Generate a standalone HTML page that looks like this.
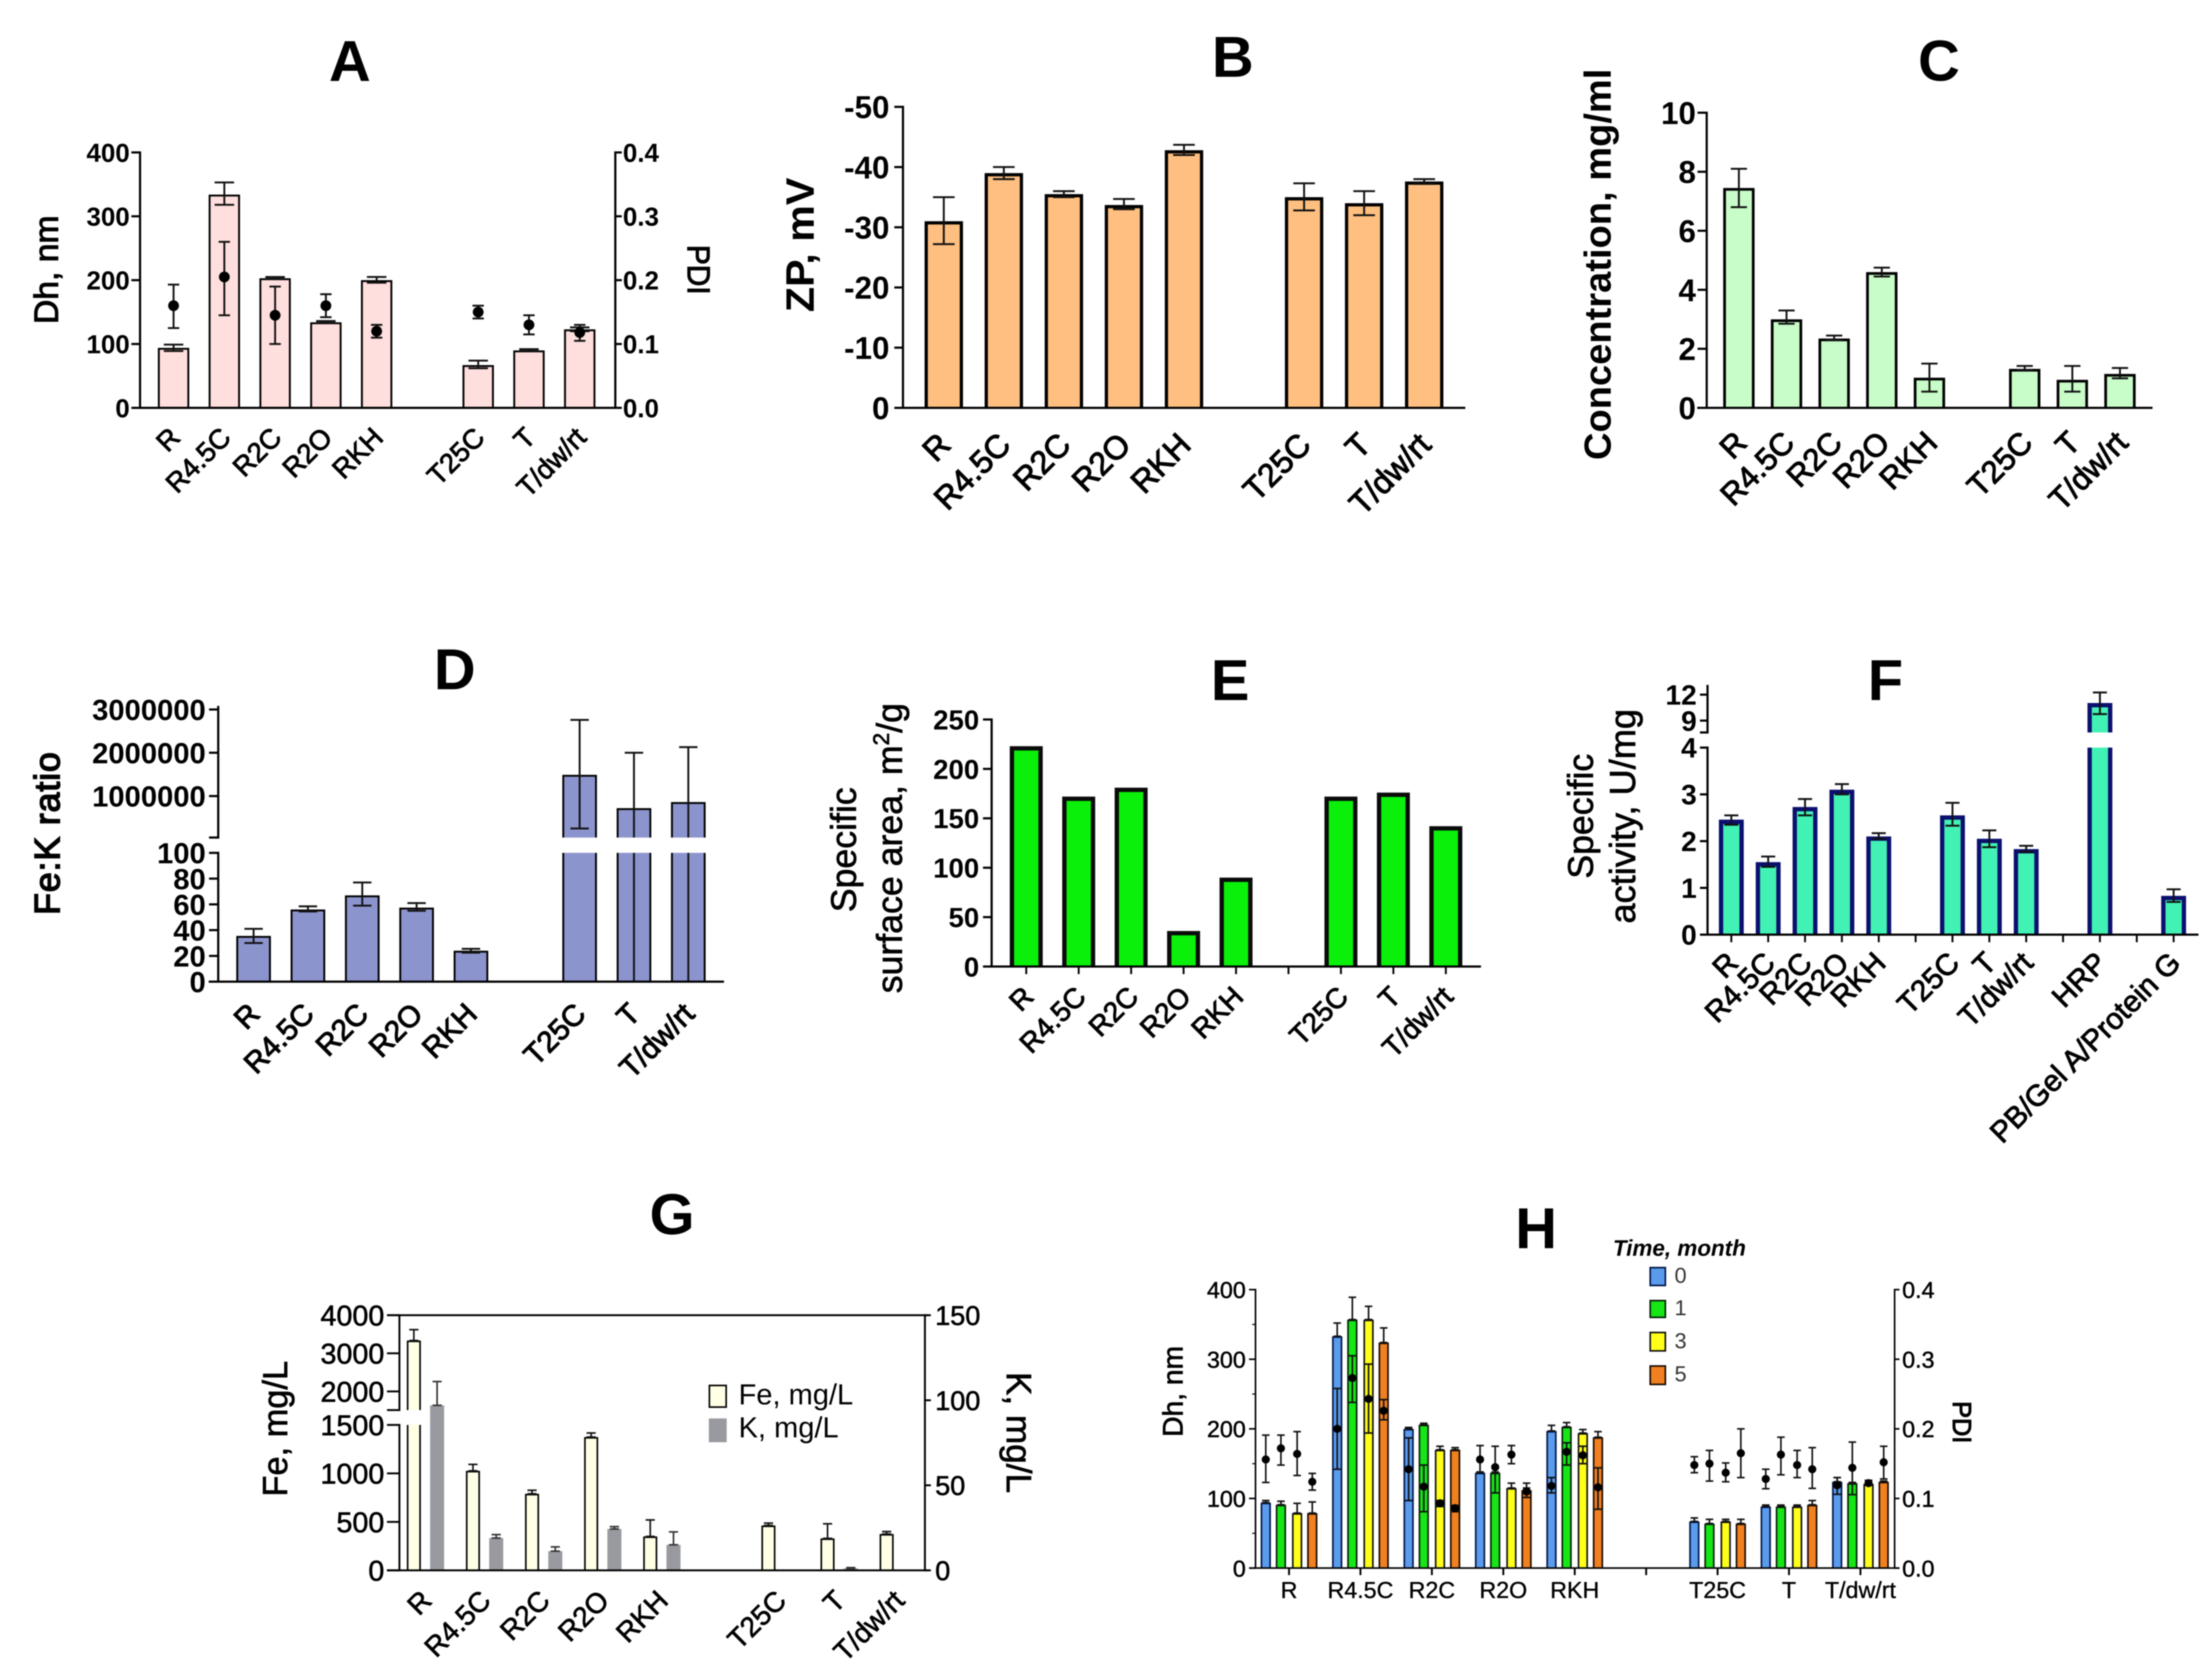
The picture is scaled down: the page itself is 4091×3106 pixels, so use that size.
<!DOCTYPE html>
<html lang="en">
<head>
<meta charset="utf-8">
<title>Nanoparticle characterisation panels A–H</title>
<style>
  html, body { margin: 0; padding: 0; background: #fff; }
  svg { display: block; filter: blur(1px); font-family: "Liberation Sans", Arial, sans-serif; }
  text { fill: #000; }
  .b { font-weight: bold; }
  .letter { font-weight: bold; font-size: 107px; text-anchor: middle; }
  .m { text-anchor: middle; }
  .h1 { stroke: #000; stroke-width: 1.2px; }
  .h2 { stroke: #000; stroke-width: 1.8px; }
</style>
</head>
<body>
<svg id="figure" xmlns="http://www.w3.org/2000/svg" width="4091" height="3106" viewBox="0 0 4091 3106">
  <rect width="4091" height="3106" fill="#fff"/>

  <g id="panel-a">
    <text class="letter" x="647" y="150">A</text>
    <text class="m h2" font-size="62" textLength="201" lengthAdjust="spacingAndGlyphs" transform="translate(107,499) rotate(-90)">Dh, nm</text>
    <text class="m h2" font-size="58" textLength="92" lengthAdjust="spacingAndGlyphs" transform="translate(1272,499) rotate(90)">PDI</text>
  </g>

  <g id="panel-b">
    <text class="letter" x="2280" y="142">B</text>
    <text class="m b" font-size="73" textLength="249" lengthAdjust="spacingAndGlyphs" transform="translate(1505,453) rotate(-90)">ZP, mV</text>
  </g>

  <g id="panel-c">
    <text class="letter" x="3586" y="149">C</text>
    <text class="m b" font-size="70" textLength="724" lengthAdjust="spacingAndGlyphs" transform="translate(2979,489) rotate(-90)">Concentration, mg/ml</text>
  </g>

  <g id="panel-d">
    <text class="letter" x="841" y="1275">D</text>
    <text class="m h2" font-size="66" textLength="301" lengthAdjust="spacing" style="stroke-width:2.6px" transform="translate(110,1542) rotate(-90)">Fe:K ratio</text>
  </g>

  <g id="panel-e">
    <text class="letter" x="2275" y="1295">E</text>
    <text class="m h1" font-size="66" transform="translate(1583,1572) rotate(-90)">Specific</text>
    <text class="m h1" font-size="66" transform="translate(1668,1569) rotate(-90)">surface area, m<tspan font-size="42" dy="-24">2</tspan><tspan dy="24">/g</tspan></text>
  </g>

  <g id="panel-f">
    <text class="letter" x="3487" y="1295">F</text>
    <text class="m h1" font-size="66" transform="translate(2946,1510) rotate(-90)">Specific</text>
    <text class="m h1" font-size="67" transform="translate(3024,1510) rotate(-90)">activity, U/mg</text>
  </g>

  <g id="panel-g">
    <text class="letter" x="1243" y="2283">G</text>
    <text class="m h1" font-size="63.6" transform="translate(531,2643) rotate(-90)">Fe, mg/L</text>
    <text class="m h1" font-size="65" transform="translate(1862,2650) rotate(90)">K, mg/L</text>
    <g>
      <rect x="1312" y="2563" width="31" height="40" fill="#FFFFE5" stroke="#000" stroke-width="3"/>
      <text x="1366" y="2598" font-size="53.7">Fe, mg/L</text>
      <rect x="1311" y="2624" width="33" height="44" fill="#999AA0"/>
      <text x="1366" y="2659" font-size="53.7">K, mg/L</text>
    </g>
  </g>

  <g id="panel-h">
    <text class="letter" x="2841" y="2309">H</text>
    <text class="m h1" font-size="52" textLength="168" lengthAdjust="spacingAndGlyphs" transform="translate(2187,2574) rotate(-90)">Dh, nm</text>
    <text class="m h2" font-size="48" textLength="78" lengthAdjust="spacingAndGlyphs" transform="translate(3612,2631) rotate(90)">PDI</text>
    <g>
      <text x="2983" y="2323" font-size="41.5" font-weight="bold" font-style="italic">Time, month</text>
      <rect x="3052" y="2345" width="28" height="33" fill="#5B9BEB" stroke="#00164A" stroke-width="3"/>
      <text x="3097" y="2373" font-size="40" style="fill:#333">0</text>
      <rect x="3052" y="2406" width="28" height="31" fill="#16E616" stroke="#06200A" stroke-width="3"/>
      <text x="3097" y="2433" font-size="40" style="fill:#333">1</text>
      <rect x="3052" y="2465" width="28" height="34" fill="#FFFF1A" stroke="#111" stroke-width="3"/>
      <text x="3097" y="2494" font-size="40" style="fill:#333">3</text>
      <rect x="3052" y="2527" width="28" height="34" fill="#F08020" stroke="#1A0A00" stroke-width="3"/>
      <text x="3097" y="2555" font-size="40" style="fill:#333">5</text>
    </g>
  </g>
</svg>

<script>
// ---------- shared categories (empty string marks the blank slot between groups) ----------
const categories = ['R', 'R4.5C', 'R2C', 'R2O', 'RKH', '', 'T25C', 'T', 'T/dw/rt'];
const fCategories = ['R', 'R4.5C', 'R2C', 'R2O', 'RKH', '', 'T25C', 'T', 'T/dw/rt', '', 'HRP', '', 'PB/Gel A/Protein G'];

// ---------- panel A ----------
const aDh = [94, 334, 203, 134, 200, null, 67, 90, 123];
const aDhLow = [89, 318, 202, 133, 196, null, 62, 89, 120];
const aDhHigh = [99, 353, 205, 136, 205, null, 74, 92, 126];
const aPdi = [0.16, 0.205, 0.145, 0.16, 0.12, null, 0.15, 0.13, 0.118];
const aPdiLow = [0.125, 0.145, 0.1, 0.142, 0.11, null, 0.14, 0.115, 0.105];
const aPdiHigh = [0.193, 0.26, 0.19, 0.178, 0.13, null, 0.16, 0.145, 0.13];
const aDhTicks = [0, 100, 200, 300, 400];
const aPdiTicks = [0, 0.1, 0.2, 0.3, 0.4];
const aPdiTickLabels = ['0.0', '0.1', '0.2', '0.3', '0.4'];

// ---------- panel B (zeta potential, negative values, axis points upward to -50) ----------
const bZp = [-31, -39, -35.5, -33.7, -42.8, null, -35, -34, -37.6];
const bZpLow = [-27.2, -38, -35, -33, -42, null, -32.8, -32, -37.2];
const bZpHigh = [-35, -40, -36, -34.7, -43.7, null, -37.3, -36, -38];
const bTicks = [0, -10, -20, -30, -40, -50];

// ---------- panel C ----------
const cConc = [7.45, 3.0, 2.35, 4.6, 1.02, null, 1.32, 0.95, 1.15];
const cConcLow = [6.8, 2.85, 2.3, 4.45, 0.55, null, 1.28, 0.55, 1.0];
const cConcHigh = [8.1, 3.3, 2.45, 4.75, 1.5, null, 1.42, 1.42, 1.35];
const cTicks = [0, 2, 4, 6, 8, 10];

// ---------- panel D ----------
const dRatio = [35.5, 56, 67, 57.5, 24, null, 1490000, 720000, 860000];
const dRatioLow = [30, 54.5, 59, 55, 22.5, null, 250000, -560000, -410000];
const dRatioHigh = [41, 58.5, 77, 61, 25.5, null, 2760000, 2000000, 2130000];
const dLowerTicks = [0, 20, 40, 60, 80, 100];
const dUpperTicks = [1000000, 2000000, 3000000];

// ---------- panel E ----------
const eArea = [223, 172, 181, 36, 90, null, 172, 176, 142];
const eTicks = [0, 50, 100, 150, 200, 250];

// ---------- panel F ----------
const fActivity = [2.46, 1.55, 2.73, 3.1, 2.1, null, 2.55, 2.05, 1.83, null, 11.03, null, 0.83];
const fActivityLow = [2.35, 1.45, 2.55, 3.0, 2.05, null, 2.33, 1.87, 1.77, null, 9.75, null, 0.7];
const fActivityHigh = [2.55, 1.67, 2.9, 3.22, 2.17, null, 2.82, 2.23, 1.9, null, 12.25, null, 0.97];
const fLowerTicks = [0, 1, 2, 3, 4];
const fUpperTicks = [9, 12];

// ---------- panel G ----------
const gFe = [3335, 1027, 790, 1375, 350, null, 463, 330, 375];
const gFeHigh = [3620, 1093, 826, 1417, 520, null, 487, 480, 400];
const gK = [97, 19, 11.3, 24.3, 15, null, null, 1.2, null];
const gKHigh = [111, 21, 13.8, 25.7, 22.6, null, null, 1.6, null];
const gFeLowerTicks = [0, 500, 1000, 1500];
const gFeUpperTicks = [2000, 3000, 4000];
const gKTicks = [0, 50, 100, 150];

// ---------- panel H (one row per month: 0, 1, 3, 5) ----------
const hMonths = ['0', '1', '3', '5'];
const hDh = [
  [94, 333, 200, 137, 197, null, 67, 88.5, 124],
  [91, 357, 206, 137, 203, null, 64, 88.5, 122],
  [79, 357, 170, 115, 194, null, 67, 88.5, 121],
  [79, 324, 170, 112, 188, null, 64, 91, 124]
];
const hDhHigh = [
  [97, 352, 202, 138, 205, null, 72, 90.5, 130],
  [96, 389, 208, 138, 209, null, 70, 90.5, 123],
  [93, 376, 175, 122, 199, null, 70, 90.5, 126],
  [95, 345, 173, 115, 196, null, 70, 97, 125]
];
const hPdi = [
  [0.156, 0.2, 0.142, 0.156, 0.118, null, 0.148, 0.128, 0.119],
  [0.172, 0.273, 0.117, 0.145, 0.167, null, 0.15, 0.163, 0.144],
  [0.164, 0.243, 0.093, 0.163, 0.162, null, 0.137, 0.148, 0.122],
  [0.124, 0.226, 0.086, 0.11, 0.116, null, 0.165, 0.142, 0.152]
];
const hPdiLow = [
  [0.123, 0.142, 0.097, 0.138, 0.108, null, 0.137, 0.114, 0.106],
  [0.148, 0.238, 0.081, 0.108, 0.148, null, 0.125, 0.134, 0.1055],
  [0.133, 0.194, 0.0885, 0.15, 0.15, null, 0.124, 0.13, 0.119],
  [0.112, 0.213, 0.081, 0.1015, 0.0845, null, 0.13, 0.1145, 0.128]
];
const hPdiHigh = [
  [0.191, 0.258, 0.187, 0.176, 0.13, null, 0.16, 0.142, 0.13],
  [0.191, 0.305, 0.148, 0.175, 0.18, null, 0.169, 0.188, 0.181],
  [0.196, 0.293, 0.097, 0.176, 0.175, null, 0.151, 0.169, 0.126],
  [0.136, 0.242, 0.09, 0.122, 0.144, null, 0.2, 0.173, 0.175]
];
const hDhTicks = [0, 100, 200, 300, 400];
const hDhMinorTicks = [50, 150, 250, 350];
const hPdiTicks = [0, 0.1, 0.2, 0.3, 0.4];
const hPdiTickLabels = ['0.0', '0.1', '0.2', '0.3', '0.4'];

// ---------- drawing helpers ----------
const NS = 'http://www.w3.org/2000/svg';

function add(parent, tag, name, attrs) {
  const el = document.createElementNS(NS, tag);
  for (const k in attrs) el.setAttribute(k, attrs[k]);
  
  
  parent.appendChild(el);
  return el;
}

function slug(s) {
  return String(s).toLowerCase().replace(/[^a-z0-9]+/g, '-').replace(/^-|-$/g, '');
}

function seg(d0, d1, p0, p1) {
  return { d0, d1, p0, p1, map: v => p0 + (v - d0) * (p1 - p0) / (d1 - d0) };
}

function axisScale(...segs) {
  const f = v => {
    for (const s of segs) if (v <= s.d1) return s.map(v);
    return segs[segs.length - 1].map(v);
  };
  f.segs = segs;
  return f;
}

function slots(first, step) {
  return i => first + i * step;
}

function label(g, name, x, y, str, size, opts) {
  const o = opts || {};
  const attrs = { x, y, 'font-size': size, 'text-anchor': o.anchor || 'end' };
  if (o.bold) attrs['font-weight'] = 'bold';
  if (o.rot) attrs.transform = 'rotate(' + o.rot + ' ' + x + ' ' + y + ')';
  if (o.heavy) { attrs.stroke = '#000'; attrs['stroke-width'] = o.heavy; }
  const t = add(g, 'text', name, attrs);
  t.textContent = str;
  return t;
}

function drawYAxis(g, name, cfg) {
  // cfg: x, dir (-1 left, 1 right), y scale, ticks, labels, size, bold, heavy, tickLen, gap, sw
  const ax = add(g, 'g', name, {});
  const sw = cfg.sw || 4;
  cfg.y.segs.forEach(s => {
    add(ax, 'line', name + '-line', { x1: cfg.x, x2: cfg.x, y1: s.p0 + sw / 2, y2: s.p1 - sw / 2, stroke: '#000', 'stroke-width': sw });
    add(ax, 'line', name + '-break-cap', { x1: cfg.x, x2: cfg.x + cfg.dir * cfg.tickLen, y1: s.p0, y2: s.p0, stroke: '#000', 'stroke-width': cfg.broken ? sw : 0 });
  });
  cfg.ticks.forEach((v, i) => {
    const y = cfg.y(v);
    add(ax, 'line', name + '-tick', { x1: cfg.x, x2: cfg.x + cfg.dir * cfg.tickLen, y1: y, y2: y, stroke: '#000', 'stroke-width': sw });
    const text = cfg.labels ? cfg.labels[i] : String(v);
    label(ax, name + '-tick-label', cfg.x + cfg.dir * (cfg.tickLen + cfg.gap), y + cfg.size * 0.36, text, cfg.size, {
      anchor: cfg.dir < 0 ? 'end' : 'start', bold: cfg.bold, heavy: cfg.heavy
    });
  });
  (cfg.minor || []).forEach(v => {
    const y = cfg.y(v);
    add(ax, 'line', name + '-minor-tick', { x1: cfg.x, x2: cfg.x + cfg.dir * cfg.tickLen * 0.5, y1: y, y2: y, stroke: '#000', 'stroke-width': sw * 0.7 });
  });
  return ax;
}

function drawXAxis(g, cfg) {
  const ax = add(g, 'g', 'x-axis', {});
  add(ax, 'line', 'x-axis-line', { x1: cfg.x1, x2: cfg.x2, y1: cfg.y0, y2: cfg.y0, stroke: '#000', 'stroke-width': cfg.sw || 4 });
  cfg.cats.forEach((c, i) => {
    const x = cfg.x(i);
    if (cfg.tickLen) {
      add(ax, 'line', 'x-axis-tick', { x1: x, x2: x, y1: cfg.y0, y2: cfg.y0 + cfg.tickLen, stroke: '#000', 'stroke-width': 3.5 });
    }
    if (c === '') return;
    if (cfg.rot === 0) {
      label(ax, 'category-label-' + slug(c), x, cfg.y0 + cfg.dy, c, cfg.size, { anchor: 'middle', bold: cfg.bold, heavy: cfg.heavy });
    } else {
      label(ax, 'category-label-' + slug(c), x + cfg.dx, cfg.y0 + cfg.dy, c, cfg.size, { rot: cfg.rot || -45, bold: cfg.bold, heavy: cfg.heavy });
    }
  });
}

function drawBars(g, seriesName, cats, xAt, vals, y, st) {
  const layer = add(g, 'g', seriesName, {});
  vals.forEach((v, i) => {
    if (v === null) return;
    const nm = 'bar-' + slug(cats[i]);
    const bar = add(layer, 'g', nm, {});
    const sw = st.sw || 0;
    const half = (st.w - sw) / 2;
    const x = xAt(i);
    y.segs.forEach(s => {
      if (v <= s.d0) return;
      // the value marks the outer top edge of the outlined bar
      const closed = v <= s.d1;
      const top = s.map(Math.min(v, s.d1)) + (closed ? sw / 2 : 0);
      add(bar, 'rect', nm + '-fill', { x: x - half, y: top, width: half * 2, height: Math.max(0, s.p0 - top), fill: st.fill });
      if (sw) {
        const d = closed
          ? 'M' + (x - half) + ' ' + s.p0 + 'V' + top + 'H' + (x + half) + 'V' + s.p0
          : 'M' + (x - half) + ' ' + s.p0 + 'V' + top + 'M' + (x + half) + ' ' + s.p0 + 'V' + top;
        add(bar, 'path', nm + '-outline', { d, fill: 'none', stroke: st.stroke, 'stroke-width': sw });
      }
    });
  });
}

function drawErrors(g, seriesName, cats, xAt, lows, highs, y, st) {
  const layer = add(g, 'g', seriesName, {});
  const bottom = y.segs[0].d0;
  highs.forEach((hi, i) => {
    if (hi === null) return;
    const lo = lows[i];
    const nm = 'error-bar-' + slug(cats[i]);
    const x = xAt(i);
    const e = add(layer, 'g', nm, {});
    y.segs.forEach(s => {
      if (lo < s.d1 && hi > s.d0) {
        add(e, 'line', nm + '-stem', {
          x1: x, x2: x, y1: s.map(Math.max(lo, s.d0)), y2: s.map(Math.min(hi, s.d1)),
          stroke: st.color || '#111', 'stroke-width': st.sw
        });
      }
    });
    [lo, hi].forEach(v => {
      if (v < bottom) return;
      const yy = y(v);
      add(e, 'line', nm + '-cap', {
        x1: x - st.cap / 2, x2: x + st.cap / 2, y1: yy, y2: yy,
        stroke: st.color || '#111', 'stroke-width': st.sw
      });
    });
  });
}

function drawDots(g, seriesName, cats, xAt, vals, y, r) {
  const layer = add(g, 'g', seriesName, {});
  vals.forEach((v, i) => {
    if (v === null) return;
    add(layer, 'circle', 'point-' + slug(cats[i]), { cx: xAt(i), cy: y(v), r, fill: '#000' });
  });
}

// ---------- panel A ----------
(function () {
  const g = document.getElementById('panel-a');
  const x = slots(321, 93.9);
  const y = axisScale(seg(0, 400, 754.5, 282));
  const y2 = axisScale(seg(0, 0.4, 754.5, 282));
  drawBars(g, 'dh-bars', categories, x, aDh, y, { w: 58, sw: 3.5, fill: '#FFDEDE', stroke: '#000' });
  drawErrors(g, 'dh-error-bars', categories, x, aDhLow, aDhHigh, y, { cap: 36, sw: 3.5 });
  drawErrors(g, 'pdi-error-bars', categories, x, aPdiLow, aPdiHigh, y2, { cap: 21, sw: 3.5 });
  drawDots(g, 'pdi-points', categories, x, aPdi, y2, 10);
  drawYAxis(g, 'y-axis-dh', { x: 259, dir: -1, y, ticks: aDhTicks, size: 48, bold: true, tickLen: 16, gap: 3 });
  drawYAxis(g, 'y-axis-pdi', { x: 1138, dir: 1, y: y2, ticks: aPdiTicks, labels: aPdiTickLabels, size: 48, bold: true, tickLen: 12, gap: 2 });
  drawXAxis(g, { cats: categories, x, x1: 243, x2: 1145, y0: 754.5, dx: 15, dy: 58, size: 51, heavy: 1.5 });
})();

// ---------- panel B ----------
(function () {
  const g = document.getElementById('panel-b');
  const x = slots(1745.5, 111.06);
  const y = axisScale(seg(0, 50, 754.5, 197.7));
  const mag = arr => arr.map(v => (v === null ? null : -v));
  drawBars(g, 'zp-bars', categories, x, mag(bZp), y, { w: 71, sw: 6, fill: '#FEBF80', stroke: '#000' });
  drawErrors(g, 'zp-error-bars', categories, x, mag(bZpLow), mag(bZpHigh), y, { cap: 40, sw: 3.5 });
  drawYAxis(g, 'y-axis-zp', { x: 1670, dir: -1, y, ticks: mag(bTicks), labels: bTicks.map(String), size: 58, bold: true, tickLen: 16, gap: 9 });
  drawXAxis(g, { cats: categories, x, x1: 1654, x2: 2710, y0: 754.5, dx: 16, dy: 72, size: 60, heavy: 1.8 });
})();

// ---------- panel C ----------
(function () {
  const g = document.getElementById('panel-c');
  const x = slots(3216, 88.1);
  const y = axisScale(seg(0, 10, 754.5, 208.5));
  drawBars(g, 'concentration-bars', categories, x, cConc, y, { w: 58, sw: 5, fill: '#C8FCC8', stroke: '#000' });
  drawErrors(g, 'concentration-error-bars', categories, x, cConcLow, cConcHigh, y, { cap: 30, sw: 3.5 });
  drawYAxis(g, 'y-axis-concentration', { x: 3156.5, dir: -1, y, ticks: cTicks, size: 58, bold: true, tickLen: 17, gap: 3 });
  drawXAxis(g, { cats: categories, x, x1: 3139, x2: 3981, y0: 754.5, dx: 18, dy: 68, size: 58, heavy: 1.8 });
})();

// ---------- panel D ----------
(function () {
  const g = document.getElementById('panel-d');
  const x = slots(469, 100.5);
  const y = axisScale(seg(0, 100, 1816, 1577.7), seg(40000, 3060000, 1549.4, 1307.7));
  drawBars(g, 'ratio-bars', categories, x, dRatio, y, { w: 64, sw: 3.5, fill: '#8C94CE', stroke: '#000' });
  drawErrors(g, 'ratio-error-bars', categories, x, dRatioLow, dRatioHigh, y, { cap: 34, sw: 3.5 });
  drawYAxis(g, 'y-axis-ratio', { x: 403.6, dir: -1, y, ticks: dLowerTicks.concat(dUpperTicks), size: 54, bold: true, tickLen: 17, gap: 6, broken: true });
  drawXAxis(g, { cats: categories, x, x1: 386, x2: 1339, y0: 1816, dx: 14.5, dy: 63, size: 55, heavy: 1.8 });
})();

// ---------- panel E ----------
(function () {
  const g = document.getElementById('panel-e');
  const x = slots(1898, 97);
  const y = axisScale(seg(0, 250, 1788, 1331));
  drawBars(g, 'surface-area-bars', categories, x, eArea, y, { w: 61, sw: 8, fill: '#0AF00A', stroke: '#0a0a0a' });
  drawYAxis(g, 'y-axis-surface-area', { x: 1834, dir: -1, y, ticks: eTicks, size: 51, bold: true, tickLen: 16, gap: 7 });
  drawXAxis(g, { cats: categories, x, x1: 1818, x2: 2739, y0: 1788, dx: 16.5, dy: 59, size: 52, heavy: 1.6, tickLen: 14 });
})();

// ---------- panel F ----------
(function () {
  const g = document.getElementById('panel-f');
  const x = slots(3202, 68.17);
  const y = axisScale(seg(0, 4, 1729, 1383), seg(7.63, 13, 1355, 1269));
  drawBars(g, 'activity-bars', fCategories, x, fActivity, y, { w: 46, sw: 8, fill: '#42F2B4', stroke: '#0B0F6E' });
  drawErrors(g, 'activity-error-bars', fCategories, x, fActivityLow, fActivityHigh, y, { cap: 26, sw: 3.5 });
  drawYAxis(g, 'y-axis-activity', { x: 3158, dir: -1, y, ticks: fLowerTicks.concat(fUpperTicks), size: 52, bold: true, tickLen: 14, gap: 6, broken: true });
  drawXAxis(g, { cats: fCategories, x, x1: 3144, x2: 4066, y0: 1729, dx: 16, dy: 55.5, size: 55, heavy: 1.6, tickLen: 14 });
})();

// ---------- panel G ----------
(function () {
  const g = document.getElementById('panel-g');
  const x = slots(765.4, 109.3);
  const xK = i => x(i) + 43;
  const y = axisScale(seg(0, 1500, 2905, 2636), seg(1510, 4000, 2608.5, 2433));
  const y2 = axisScale(seg(0, 150, 2905, 2433));
  add(g, 'line', 'top-border', { x1: 716, x2: 1717, y1: 2433, y2: 2433, stroke: '#000', 'stroke-width': 3.5 });
  drawBars(g, 'fe-bars', categories, x, gFe, y, { w: 26, sw: 3, fill: '#FFFFE5', stroke: '#000' });
  drawErrors(g, 'fe-error-bars', categories, x, gFe, gFeHigh, y, { cap: 17, sw: 3 });
  drawBars(g, 'k-bars', categories, xK, gK, y2, { w: 26, sw: 0, fill: '#999AA0' });
  drawErrors(g, 'k-error-bars', categories, xK, gK, gKHigh, y2, { cap: 17, sw: 3, color: '#333' });
  drawYAxis(g, 'y-axis-fe', { x: 738.7, dir: -1, y, ticks: gFeLowerTicks.concat(gFeUpperTicks), size: 53, heavy: 1, tickLen: 23, gap: 5, sw: 3.5, broken: true });
  drawYAxis(g, 'y-axis-k', { x: 1710.6, dir: 1, y: y2, ticks: gKTicks, size: 50, heavy: 1, tickLen: 11, gap: 8, sw: 3.5 });
  drawXAxis(g, { cats: categories, x, x1: 716, x2: 1719, y0: 2905, dx: 36, dy: 59, size: 52, heavy: 1.2, sw: 3.5 });
})();

// ---------- panel H ----------
(function () {
  const g = document.getElementById('panel-h');
  const x = slots(2384, 132.1);
  const y = axisScale(seg(0, 400, 2900.8, 2385.7));
  const y2 = axisScale(seg(0, 0.4, 2900.8, 2385.7));
  const offsets = [-43, -15, 15, 43];
  const fills = ['#5B9BEB', '#16E616', '#FFFF1A', '#F08020'];
  const strokes = ['#00164A', '#06200A', '#111', '#1A0A00'];
  hMonths.forEach((m, k) => {
    const xs = i => x(i) + offsets[k];
    drawBars(g, 'dh-bars-month-' + m, categories, xs, hDh[k], y, { w: 19, sw: 3, fill: fills[k], stroke: strokes[k] });
    drawErrors(g, 'dh-error-bars-month-' + m, categories, xs, hDh[k], hDhHigh[k], y, { cap: 14, sw: 3 });
  });
  hMonths.forEach((m, k) => {
    const xs = i => x(i) + offsets[k];
    drawErrors(g, 'pdi-error-bars-month-' + m, categories, xs, hPdiLow[k], hPdiHigh[k], y2, { cap: 14, sw: 3 });
    drawDots(g, 'pdi-points-month-' + m, categories, xs, hPdi[k], y2, 7.5);
  });
  drawYAxis(g, 'y-axis-dh', { x: 2322, dir: -1, y, ticks: hDhTicks, minor: hDhMinorTicks, size: 43, heavy: 0.8, tickLen: 12, gap: 6, sw: 3 });
  drawYAxis(g, 'y-axis-pdi', { x: 3504, dir: 1, y: y2, ticks: hPdiTicks, labels: hPdiTickLabels, size: 43, heavy: 0.8, tickLen: 9, gap: 5, sw: 3 });
  drawXAxis(g, { cats: categories, x, x1: 2310, x2: 3513, y0: 2900.8, rot: 0, dy: 55, size: 43, heavy: 0.6, tickLen: 13, sw: 3 });
})();
</script>
</body>
</html>
